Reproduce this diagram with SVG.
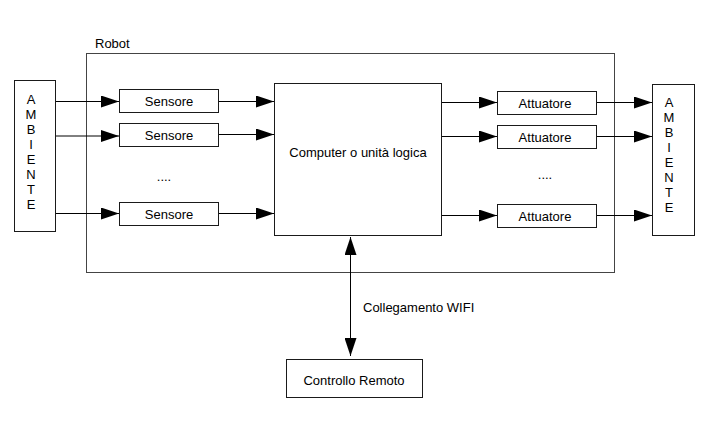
<svg xmlns="http://www.w3.org/2000/svg" width="725" height="423" viewBox="0 0 725 423">
<style>
.box{fill:#fff;stroke:#1a1a1a;stroke-width:1}
.robot{fill:none;stroke:#444;stroke-width:1}
.t{font-family:"Liberation Sans",Arial,sans-serif;font-size:13px;fill:#000}
.m{text-anchor:middle}
.ln{stroke:#000;stroke-width:1;fill:none}
</style>
<defs>
<marker id="ah" markerWidth="18" markerHeight="12" refX="18" refY="6" orient="auto" markerUnits="userSpaceOnUse">
<path d="M0,0 L18,6 L0,12 Z" fill="#000"/>
</marker>
<marker id="ahs" markerWidth="18" markerHeight="12" refX="18" refY="6" orient="auto-start-reverse" markerUnits="userSpaceOnUse">
<path d="M0,0 L18,6 L0,12 Z" fill="#000"/>
</marker>
</defs>
<g id="robot">
<rect class="robot" x="86.5" y="53.5" width="528" height="219"/>
<text class="t" x="95" y="48">Robot</text>
</g>
<g id="ambiente-left">
<rect class="box" x="14.5" y="80.5" width="41" height="151"/>
<text class="t m" x="31" y="104">A</text>
<text class="t m" x="31" y="119">M</text>
<text class="t m" x="31" y="134">B</text>
<text class="t m" x="31" y="149">I</text>
<text class="t m" x="31" y="164">E</text>
<text class="t m" x="31" y="179">N</text>
<text class="t m" x="31" y="194">T</text>
<text class="t m" x="31" y="209">E</text>
</g>
<g id="sensore1"><rect class="box" x="119.5" y="89.5" width="99" height="23"/><text class="t m" x="169" y="106">Sensore</text></g>
<g id="sensore2"><rect class="box" x="119.5" y="123.5" width="99" height="23"/><text class="t m" x="169" y="140">Sensore</text></g>
<g id="dots-left"><text class="t m" x="164" y="181">....</text></g>
<g id="sensore3"><rect class="box" x="119.5" y="202.5" width="99" height="23"/><text class="t m" x="169" y="219">Sensore</text></g>
<g id="computer"><rect class="box" x="274.5" y="83.5" width="167" height="152"/><text class="t m" x="358" y="157">Computer o unità logica</text></g>
<g id="attuatore1"><rect class="box" x="497.5" y="91.5" width="99" height="23"/><text class="t m" x="545" y="108">Attuatore</text></g>
<g id="attuatore2"><rect class="box" x="497.5" y="125.5" width="99" height="23"/><text class="t m" x="545" y="142">Attuatore</text></g>
<g id="dots-right"><text class="t m" x="545" y="179">....</text></g>
<g id="attuatore3"><rect class="box" x="497.5" y="204.5" width="99" height="23"/><text class="t m" x="545" y="221">Attuatore</text></g>
<g id="ambiente-right">
<rect class="box" x="652.5" y="84.5" width="42" height="151"/>
<text class="t m" x="669" y="107">A</text>
<text class="t m" x="669" y="122">M</text>
<text class="t m" x="669" y="137">B</text>
<text class="t m" x="669" y="152">I</text>
<text class="t m" x="669" y="167">E</text>
<text class="t m" x="669" y="182">N</text>
<text class="t m" x="669" y="197">T</text>
<text class="t m" x="669" y="212">E</text>
</g>
<g id="controllo"><rect class="box" x="286.5" y="359.5" width="136" height="38"/><text class="t m" x="354" y="385">Controllo Remoto</text></g>
<g id="connectors">
<line class="ln" x1="56" y1="101.5" x2="119" y2="101.5" marker-end="url(#ah)"/>
<line class="ln" x1="56" y1="136" x2="119" y2="136" marker-end="url(#ah)"/>
<line class="ln" x1="56" y1="213.5" x2="119" y2="213.5" marker-end="url(#ah)"/>
<line class="ln" x1="219" y1="101.5" x2="274" y2="101.5" marker-end="url(#ah)"/>
<line class="ln" x1="219" y1="134.5" x2="274" y2="134.5" marker-end="url(#ah)"/>
<line class="ln" x1="219" y1="213.5" x2="274" y2="213.5" marker-end="url(#ah)"/>
<line class="ln" x1="442" y1="102.5" x2="497" y2="102.5" marker-end="url(#ah)"/>
<line class="ln" x1="442" y1="136.5" x2="497" y2="136.5" marker-end="url(#ah)"/>
<line class="ln" x1="442" y1="215.5" x2="497" y2="215.5" marker-end="url(#ah)"/>
<line class="ln" x1="597" y1="102.5" x2="652" y2="102.5" marker-end="url(#ah)"/>
<line class="ln" x1="597" y1="136.5" x2="652" y2="136.5" marker-end="url(#ah)"/>
<line class="ln" x1="597" y1="215.5" x2="652" y2="215.5" marker-end="url(#ah)"/>
<line class="ln" x1="350.5" y1="237" x2="350.5" y2="356" marker-start="url(#ahs)" marker-end="url(#ah)"/>
<text class="t" x="363" y="312">Collegamento WIFI</text>
</g>
</svg>
